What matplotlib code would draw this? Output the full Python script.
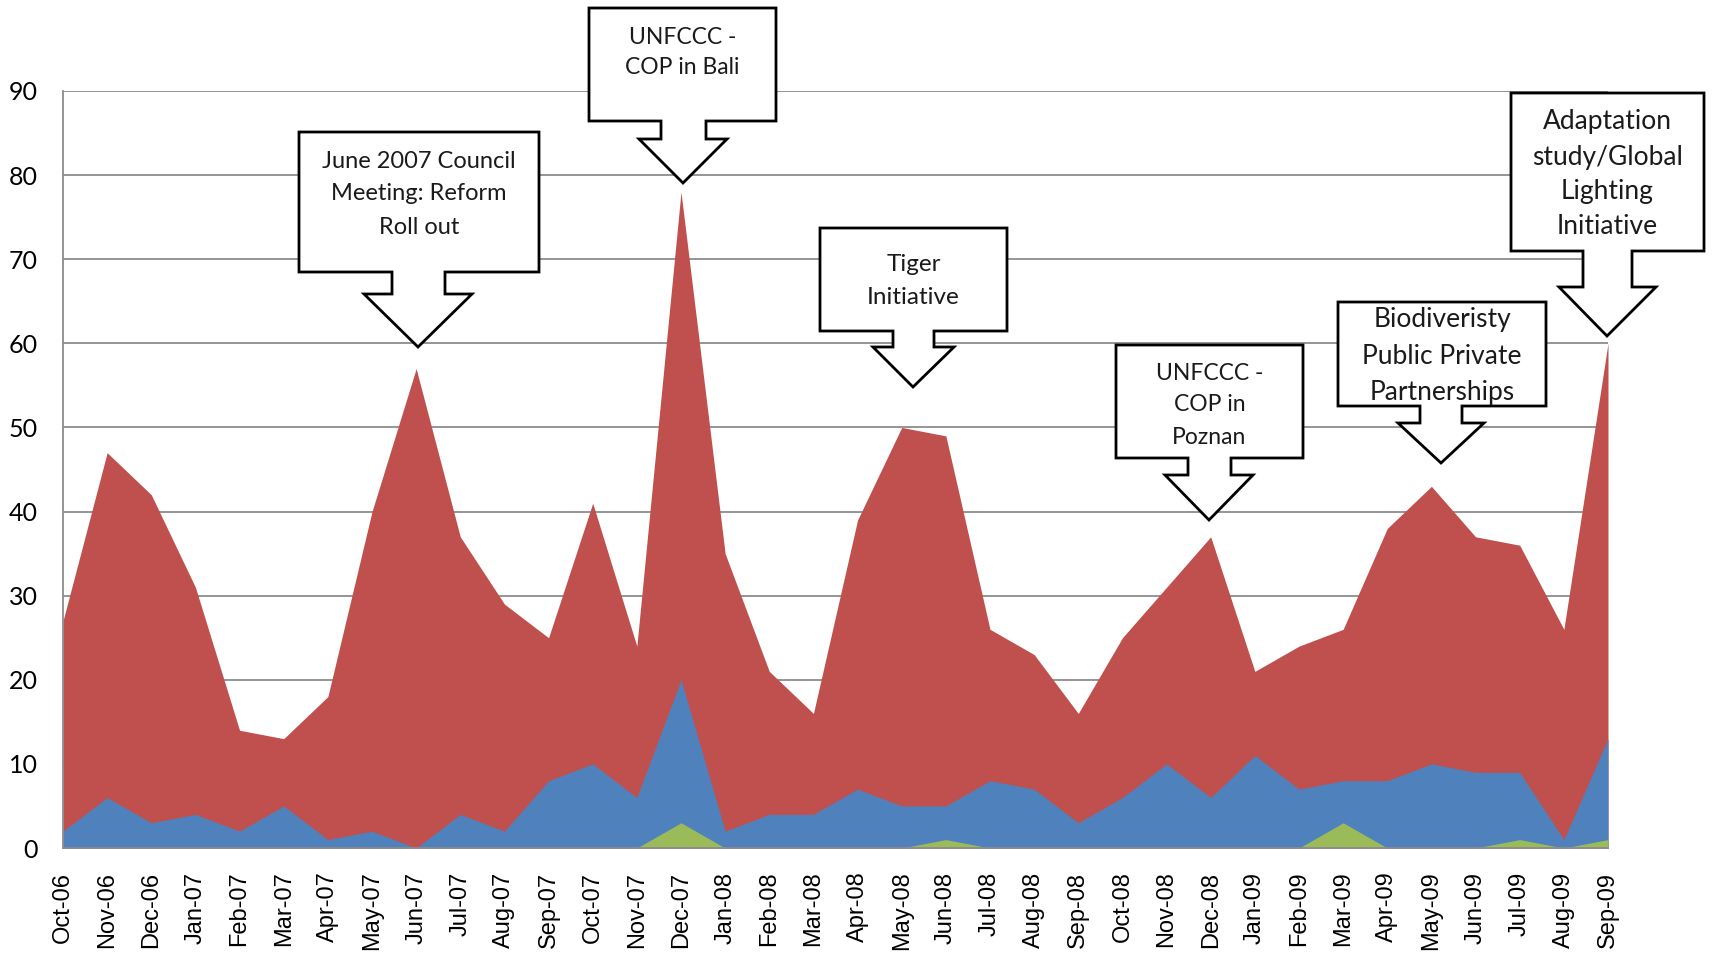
import matplotlib.pyplot as plt
import numpy as np
from matplotlib.patches import Polygon

# 月份标签
months = ['Oct-06', 'Nov-06', 'Dec-06', 'Jan-07', 'Feb-07', 'Mar-07', 'Apr-07', 'May-07',
          'Jun-07', 'Jul-07', 'Aug-07', 'Sep-07', 'Oct-07', 'Nov-07', 'Dec-07', 'Jan-08',
          'Feb-08', 'Mar-08', 'Apr-08', 'May-08', 'Jun-08', 'Jul-08', 'Aug-08', 'Sep-08',
          'Oct-08', 'Nov-08', 'Dec-08', 'Jan-09', 'Feb-09', 'Mar-09', 'Apr-09', 'May-09',
          'Jun-09', 'Jul-09', 'Aug-09', 'Sep-09']

# 三个序列（红、蓝、绿）
red_vals = [27, 47, 42, 31, 14, 13, 18, 40, 57, 37, 29, 25, 41, 24, 78, 35, 21, 16,
            39, 50, 49, 26, 23, 16, 25, 31, 37, 21, 24, 26, 38, 43, 37, 36, 26, 60]
blue_vals = [2, 6, 3, 4, 2, 5, 1, 2, 0, 4, 2, 8, 10, 6, 20, 2, 4, 4,
             7, 5, 5, 8, 7, 3, 6, 10, 6, 11, 7, 8, 8, 10, 9, 9, 1, 13]
green_vals = [0, 0, 0, 0, 0, 0, 0, 0, 0, 0, 0, 0, 0, 0, 3, 0, 0, 0,
              0, 0, 1, 0, 0, 0, 0, 0, 0, 0, 0, 3, 0, 0, 0, 1, 0, 1]

W, H = 1717, 956

fig = plt.figure(figsize=(W / 100, H / 100), dpi=100)
ax = fig.add_axes([63 / W, 1 - 848 / H, (1608 - 63) / W, (848 - 91) / H])

x = np.arange(len(months))
ax.fill_between(x, 0, red_vals, color='#C0504D', lw=0)
ax.fill_between(x, 0, blue_vals, color='#4F81BD', lw=0)
ax.fill_between(x, 0, green_vals, color='#9BBB59', lw=0)

ax.set_xlim(0, len(months) - 1)
ax.set_ylim(0, 90)
ax.set_yticks(range(0, 91, 10))
ax.set_xticks(x)
ax.set_xticklabels(months, rotation=90, fontsize=17, family='Liberation Sans')
for lbl in ax.get_yticklabels():
    lbl.set_family('Lato')
    lbl.set_fontsize(18)
ax.tick_params(axis='x', length=0, pad=17)
ax.tick_params(axis='y', length=0, pad=18)

ax.grid(axis='y', color='#8c8c8c', lw=1.3)
ax.set_axisbelow(True)
for s in ['top', 'right']:
    ax.spines[s].set_visible(False)
for s in ['left', 'bottom']:
    ax.spines[s].set_color('#8c8c8c')
    ax.spines[s].set_linewidth(1.3)


# 带向下箭头的标注框（像素坐标，原点在左上）
def callout(box, shaft, head, tip, lines, ys, size):
    L, T, R, B = box
    sl, sr, sb = shaft
    hl, hr = head
    tx, ty = tip
    pts = [(L, T), (R, T), (R, B), (sr, B), (sr, sb), (hr, sb), (tx, ty),
           (hl, sb), (sl, sb), (sl, B), (L, B)]
    pts = [(px / W, 1 - py / H) for px, py in pts]
    poly = Polygon(pts, closed=True, facecolor='white', edgecolor='black',
                   lw=2.0, transform=fig.transFigure, zorder=5, joinstyle='miter')
    fig.add_artist(poly)
    cx = (L + R) / 2
    for line, yy in zip(lines, ys):
        fig.text(cx / W, 1 - yy / H, line, ha='center', va='center',
                 fontsize=size, family='Lato', color='#1a1a1a', zorder=6)


callout((299, 132, 539, 272), (392, 445, 294), (364, 472), (418, 347),
        ['June 2007 Council', 'Meeting: Reform', 'Roll out'], [161, 194, 227], 17)
callout((589, 8, 776, 121), (661, 706, 139), (639, 727), (683, 183),
        ['UNFCCC -', 'COP in Bali'], [37, 68], 16.5)
callout((820, 228, 1007, 331), (893, 934, 347), (873, 954), (913, 387),
        ['Tiger', 'Initiative'], [265, 297], 17.5)
callout((1116, 345, 1303, 458), (1188, 1231, 475), (1165, 1253), (1209, 520),
        ['UNFCCC -', 'COP in', 'Poznan'], [373, 405, 437], 16.5)
callout((1338, 302, 1546, 406), (1420, 1462, 423), (1398, 1484), (1441, 463),
        ['Biodiveristy', 'Public Private', 'Partnerships'], [320, 356, 392], 19)
callout((1511, 93, 1704, 251), (1583, 1632, 287), (1559, 1656), (1607, 336),
        ['Adaptation', 'study/Global', 'Lighting', 'Initiative'], [121, 157, 192, 227], 19)

fig.savefig('out.png', dpi=100)
